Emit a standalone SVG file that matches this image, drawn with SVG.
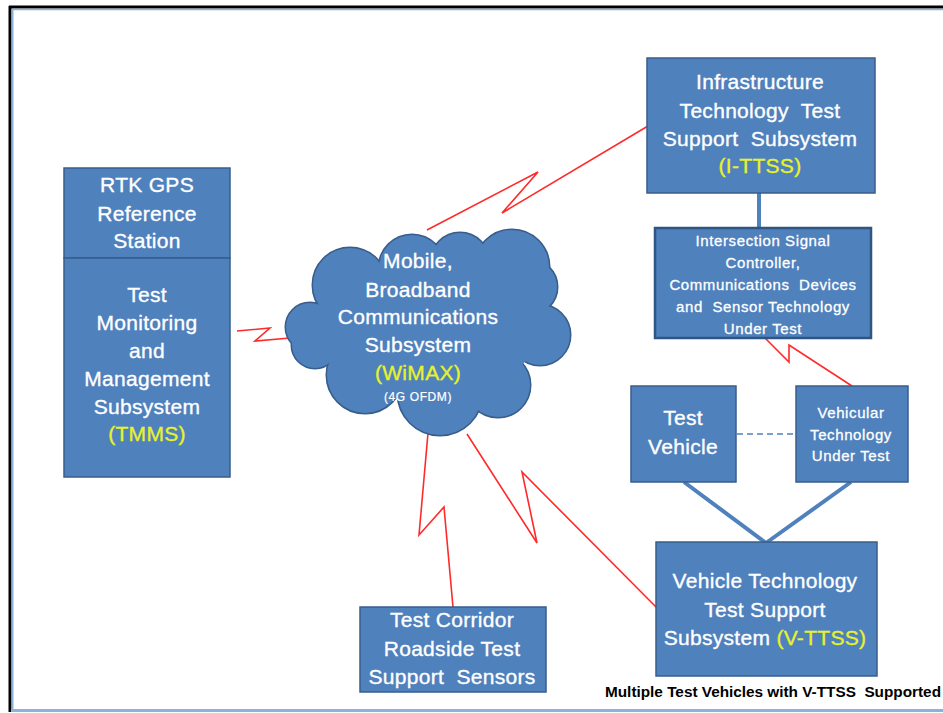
<svg xmlns="http://www.w3.org/2000/svg" width="943" height="713" viewBox="0 0 943 713">
<style>
.box{fill:#4f81bd;stroke:#385d8a;stroke-width:1.5}
.box2{fill:#4f81bd;stroke:#2f5582;stroke-width:2.5}
text{white-space:pre}
.t{font-family:"Liberation Sans",Arial,sans-serif;font-size:21px;letter-spacing:0.3px;fill:#ffffff;stroke:#ffffff;stroke-width:0.35;text-anchor:middle}
.s{font-family:"Liberation Sans",Arial,sans-serif;font-size:15px;letter-spacing:0.6px;fill:#ffffff;stroke:#ffffff;stroke-width:0.3;text-anchor:middle}
.y{fill:#e8f22a;stroke:#e8f22a}
.bolt{fill:none;stroke:#ff2a2a;stroke-width:1.6;stroke-linejoin:miter}
.link{fill:none;stroke:#4f81bd;stroke-width:4}
.cl{fill:#4f81bd}
.clo{fill:#4f81bd;stroke:#385d8a;stroke-width:3}
</style>
<rect width="943" height="713" fill="#ffffff"/>
<g id="frame">
<line x1="10" y1="6" x2="10" y2="712" stroke="#000" stroke-width="3"/>
<line x1="9" y1="7" x2="943" y2="7" stroke="#000" stroke-width="3"/>
<line x1="12.5" y1="9" x2="12.5" y2="710" stroke="#8eb0dc" stroke-width="2"/>
<line x1="12" y1="9.5" x2="943" y2="9.5" stroke="#8eb0dc" stroke-width="1.5"/>
<line x1="11" y1="710.5" x2="943" y2="710.5" stroke="#8eb0dc" stroke-width="3"/>
</g>
<g id="connectors">
<polyline class="bolt" points="427,230 538,172 502,213 648,126"/>
<polyline class="bolt" points="237,331 270,328 255,341 290,338"/>
<polyline class="bolt" points="764,337 789,362 789,345 852,386"/>
<polyline class="bolt" points="428,433 419,535 444,507 453,607"/>
<polyline class="bolt" points="467,434 537,543 522,472 658,609"/>
<line class="link" x1="759" y1="193" x2="759" y2="228"/>
<line class="link" x1="684" y1="482" x2="766" y2="543"/>
<line class="link" x1="851" y1="482" x2="766" y2="543"/>
<line x1="737" y1="434" x2="796" y2="434" stroke="#4f81bd" stroke-width="1.5" stroke-dasharray="6,4"/>
</g>
<g id="rtk">
<rect class="box" x="64" y="168" width="166" height="90"/>
<text class="t" x="147" y="192">RTK GPS</text>
<text class="t" x="147" y="221">Reference</text>
<text class="t" x="147" y="248">Station</text>
</g>
<g id="tmms">
<rect class="box" x="64" y="258" width="166" height="219"/>
<text class="t" x="147" y="302">Test</text>
<text class="t" x="147" y="330">Monitoring</text>
<text class="t" x="147" y="358">and</text>
<text class="t" x="147" y="386">Management</text>
<text class="t" x="147" y="414">Subsystem</text>
<text class="t y" x="147" y="441">(TMMS)</text>
</g>
<g id="cloud">
<g class="clo">
<circle cx="310" cy="327" r="24"/>
<circle cx="350" cy="285" r="37"/>
<circle cx="412" cy="268" r="33"/>
<circle cx="460" cy="262" r="29"/>
<circle cx="512" cy="267" r="37"/>
<circle cx="530" cy="287" r="27"/>
<circle cx="540" cy="335" r="30"/>
<circle cx="498" cy="385" r="32"/>
<circle cx="440" cy="393" r="42"/>
<circle cx="365" cy="375" r="38"/>
<circle cx="315" cy="345" r="23"/>
</g>
<g class="cl">
<circle cx="310" cy="327" r="24"/>
<circle cx="350" cy="285" r="37"/>
<circle cx="412" cy="268" r="33"/>
<circle cx="460" cy="262" r="29"/>
<circle cx="512" cy="267" r="37"/>
<circle cx="530" cy="287" r="27"/>
<circle cx="540" cy="335" r="30"/>
<circle cx="498" cy="385" r="32"/>
<circle cx="440" cy="393" r="42"/>
<circle cx="365" cy="375" r="38"/>
<circle cx="315" cy="345" r="23"/>
<ellipse cx="428" cy="330" rx="108" ry="72"/>
</g>
<text class="t" x="418" y="268">Mobile,</text>
<text class="t" x="418" y="297">Broadband</text>
<text class="t" x="418" y="324">Communications</text>
<text class="t" x="418" y="352">Subsystem</text>
<text class="t y" x="418" y="380">(WiMAX)</text>
<text class="t" x="418" y="401" style="font-size:12px;letter-spacing:0.6px;stroke-width:0.2">(4G OFDM)</text>
</g>
<g id="ittss">
<rect class="box" x="647" y="58" width="228" height="135"/>
<text class="t" x="760" y="89">Infrastructure</text>
<text class="t" x="760" y="118">Technology  Test</text>
<text class="t" x="760" y="146">Support  Subsystem</text>
<text class="t y" x="760" y="173">(I-TTSS)</text>
</g>
<g id="intersection">
<rect class="box2" x="655" y="228" width="216" height="110"/>
<text class="s" x="763" y="246">Intersection Signal</text>
<text class="s" x="763" y="268">Controller,</text>
<text class="s" x="763" y="290">Communications  Devices</text>
<text class="s" x="763" y="312">and  Sensor Technology</text>
<text class="s" x="763" y="334">Under Test</text>
</g>
<g id="testvehicle">
<rect class="box" x="631" y="386" width="105" height="96"/>
<text class="t" x="683" y="425">Test</text>
<text class="t" x="683" y="454">Vehicle</text>
</g>
<g id="vehicular">
<rect class="box" x="796" y="386" width="112" height="96"/>
<text class="s" x="851" y="418">Vehicular</text>
<text class="s" x="851" y="440">Technology</text>
<text class="s" x="851" y="461">Under Test</text>
</g>
<g id="vttss">
<rect class="box" x="656" y="542" width="221" height="134"/>
<text class="t" x="765" y="588">Vehicle Technology</text>
<text class="t" x="765" y="617">Test Support</text>
<text class="t" x="765" y="645">Subsystem <tspan class="y">(V-TTSS)</tspan></text>
</g>
<g id="corridor">
<rect class="box" x="360" y="607" width="186" height="85"/>
<text class="t" x="452" y="627">Test Corridor</text>
<text class="t" x="452" y="656">Roadside Test</text>
<text class="t" x="452" y="684">Support  Sensors</text>
</g>
<text x="605" y="697" textLength="336" lengthAdjust="spacingAndGlyphs" style="font-family:'Liberation Sans',Arial,sans-serif;font-size:14px;font-weight:bold;fill:#000">Multiple Test Vehicles with V-TTSS  Supported</text>
</svg>
